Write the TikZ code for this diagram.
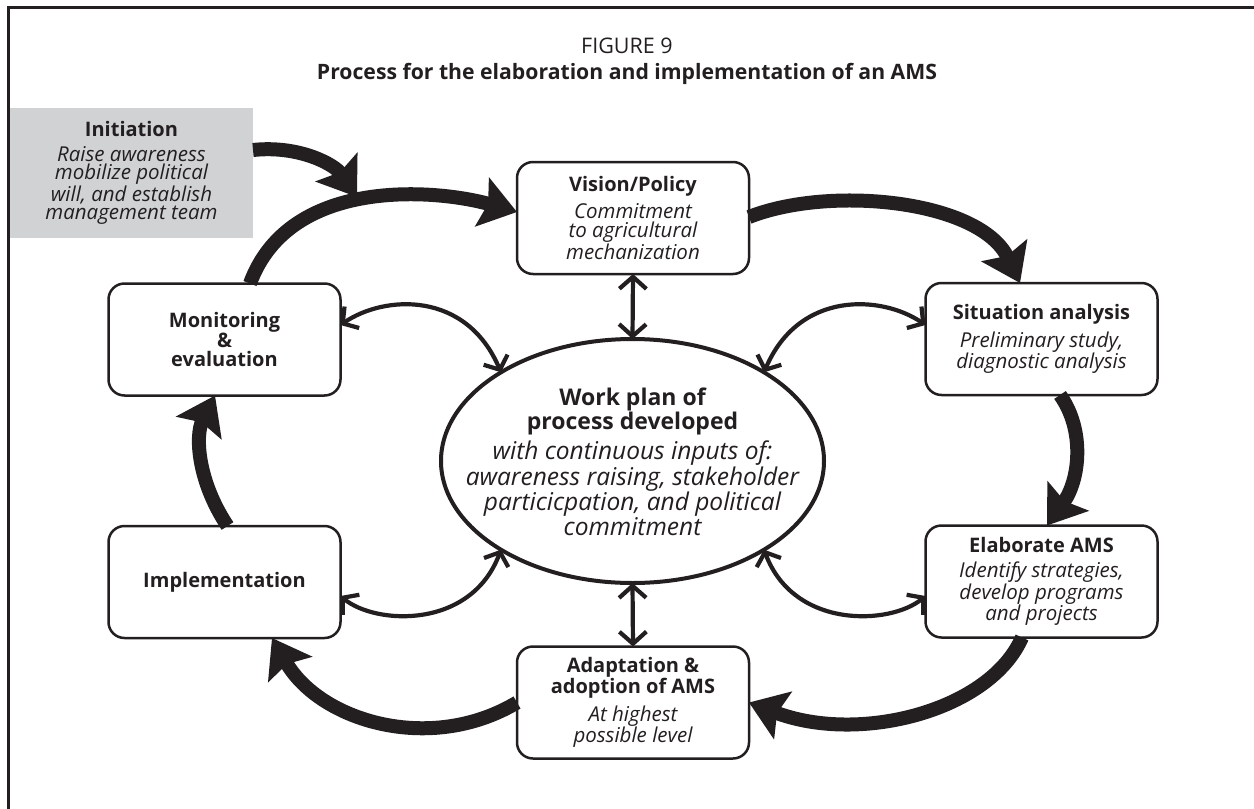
\documentclass[tikz,border=0pt]{standalone}
\usepackage{fontspec}
\setmainfont{Open Sans}
\usetikzlibrary{shapes.geometric,arrows.meta}
\definecolor{initgray}{HTML}{D1D2D4}
\definecolor{ink}{HTML}{231F20}
\newcommand{\txb}[1]{{\fontsize{20}{19}\selectfont\bfseries #1}}
\newcommand{\txi}[1]{{\fontsize{20.5}{19}\selectfont\itshape #1}}
\newcommand{\elb}[1]{{\fontsize{23}{22.5}\selectfont\bfseries #1}}
\newcommand{\eli}[1]{{\fontsize{24.5}{22.5}\selectfont\itshape #1}}
\begin{document}
\begin{tikzpicture}[x=1pt,y=-1pt,
  every node/.style={text=ink},
  box/.style={draw=ink, line width=2.5pt, rounded corners=16pt, minimum width=232pt, minimum height=112pt, align=center, inner sep=0pt, outer sep=0pt, font=\fontsize{20}{19}\selectfont},
  flow/.style={draw=ink, line width=14pt, -{Stealth[length=36pt,width=50pt,inset=6pt]}},
  duo/.style={draw=ink, line width=4.2pt, {Straight Barb[length=11pt,width=26pt]}-{Straight Barb[length=11pt,width=26pt]}},
  vduo/.style={draw=ink, line width=4.2pt, {Straight Barb[length=12pt,width=27pt]}-{Straight Barb[length=12pt,width=27pt]}},
]
\path[use as bounding box] (0,0) rectangle (1254,809);
\draw[ink, line width=3pt] (8.7,809) -- (8.7,7.5) -- (1254,7.5);

\node[font=\fontsize{21.5}{22}\selectfont] (fig) at (627,46) {FIGURE 9};
\node[font=\fontsize{21.2}{22}\selectfont\bfseries] (ttl) at (627,74) {Process for the elaboration and implementation of an AMS};

\node[fill=initgray, minimum width=243pt, minimum height=130pt, inner sep=0pt, outer sep=0pt, align=center, font=\fontsize{20}{18.5}\selectfont] (init) at (131.5,173)
  {\txb{Initiation}\\[6pt]\txi{Raise awareness}\\\txi{mobilize political}\\\txi{will, and establish}\\\txi{management team}};

\node[box] (vis) at (633,218) {\txb{Vision/Policy}\\[6pt]\txi{Commitment}\\\txi{to agricultural}\\\txi{mechanization}};
\node[box] (mon) at (224.5,339.5) {\txb{Monitoring}\\\txb{\&}\\\txb{evaluation}};
\node[box] (sit) at (1041.5,339) {\txb{Situation analysis}\\[6pt]\txi{Preliminary study,}\\\txi{diagnostic analysis}};
\node[box] (imp) at (224.5,582) {\txb{Implementation}};
\node[box] (ela) at (1041.5,581.5) {\txb{Elaborate AMS}\\[6pt]\txi{Identify strategies,}\\\txi{develop programs}\\\txi{and projects}};
\node[box] (ada) at (633,702.5) {\txb{Adaptation \&}\\\txb{adoption of AMS}\\[6pt]\txi{At highest}\\\txi{possible level}};

\node[ellipse, draw=ink, line width=4pt, minimum width=383pt, minimum height=244pt, inner sep=0pt, outer sep=0pt] (ell) at (632.5,461) {};
\node[align=center, inner sep=0pt, font=\fontsize{24}{22.5}\selectfont] (elltext) at (632.5,462)
  {\elb{Work plan of}\\\elb{process developed}\\[5pt]\eli{with continuous inputs of:}\\\eli{awareness raising, stakeholder}\\\eli{particicpation, and political}\\\eli{commitment}};

\coordinate (t1) at (357,197);

\draw[flow] ([yshift=23pt]init.east) .. controls +(47,-5) and +(-22,-32) .. (t1);
\draw[flow] ([xshift=25.5pt]mon.north) .. controls +(40,-109) and +(-77,-22) .. ([yshift=6pt]vis.west);
\draw[flow] ([yshift=1pt]vis.east) .. controls +(81,-32) and +(-40,-83) .. ([xshift=-21.5pt]sit.north);
\draw[flow] ([xshift=18.5pt]sit.south) .. controls +(25,35) and +(33,-46) .. ([xshift=5.5pt]ela.north);
\draw[flow] ([xshift=-19.5pt]ela.south) .. controls +(-32,73) and +(111,42) .. (ada.east);
\draw[flow] (ada.west) .. controls +(-87,52) and +(48,83) .. ([xshift=47.5pt]imp.south);
\draw[flow] ([xshift=3pt]imp.north) .. controls +(-30,-45) and +(-20,40) .. ([xshift=-9.5pt]mon.south);

\draw[duo] ([yshift=14.5pt]mon.east) .. controls +(44,-30) and +(-35,-82) .. (ell.146);
\draw[duo] ([yshift=14pt]sit.west) .. controls +(-44,-30) and +(35,-82) .. (ell.34);
\draw[duo] ([yshift=-14pt]imp.east) .. controls +(35,29) and +(-30,80) .. (ell.214);
\draw[duo] ([yshift=-14.5pt]ela.west) .. controls +(-35,29) and +(30,80) .. (ell.326);
\draw[vduo] (vis.south) -- (ell.north);
\draw[vduo] (ada.north) -- (ell.south);
\end{tikzpicture}
\end{document}
